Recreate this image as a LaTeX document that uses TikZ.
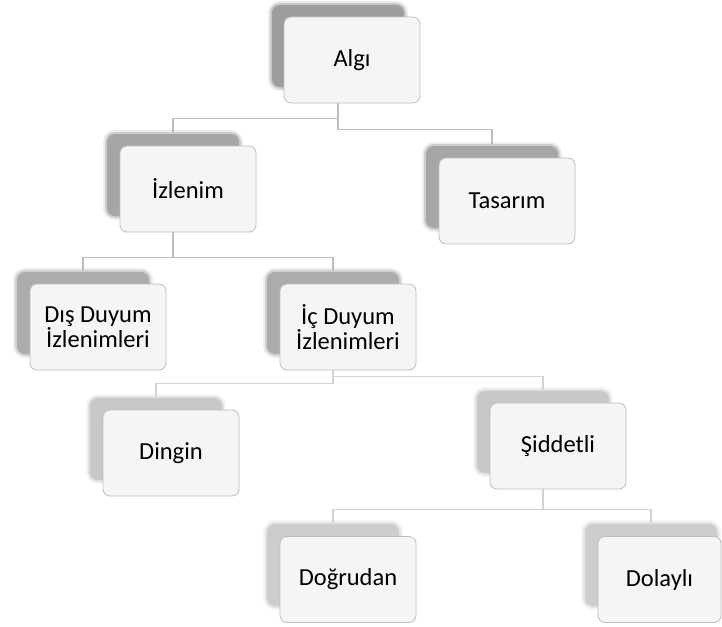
\documentclass[tikz,border=0pt]{standalone}
\usepackage{fontspec}
\setmainfont{Carlito}
\usetikzlibrary{calc}
\pgfdeclarelayer{bg}
\pgfsetlayers{bg,main}
\definecolor{shA}{HTML}{9E9E9E}
\definecolor{shB}{HTML}{A6A6A6}
\definecolor{shC}{HTML}{ACACAC}
\definecolor{shD}{HTML}{C8C8C8}
\definecolor{shE}{HTML}{CDCDCD}
\definecolor{boxline}{HTML}{BDBDBD}
\definecolor{boxfill}{HTML}{F5F5F5}
\definecolor{connA}{HTML}{BEBEBE}
\definecolor{connB}{HTML}{D2D2D2}
\tikzset{
  frontbox/.style={draw=boxline, line width=0.8pt, rounded corners=7pt,
    fill=boxfill, minimum width=136pt, minimum height=86pt, inner sep=0pt,
    align=center, text=black, font=\fontsize{24.5}{24}\selectfont},
  shadowbox/.style={fill=#1, draw=#1, draw opacity=0.45, line width=4pt,
    rounded corners=8pt, minimum width=132pt, minimum height=82pt, inner sep=0pt,
    preaction={draw=#1, draw opacity=0.2, line width=8pt}},
  conn/.style={draw=#1, line width=1.6pt}
}
\begin{document}
\begin{tikzpicture}[x=1pt,y=-1pt]
\useasboundingbox (0,0) rectangle (722,626);
% shadows
\node[shadowbox=shA] (algiS) at (338,46) {};
\node[shadowbox=shB] (izlS) at (173,175) {};
\node[shadowbox=shB] (tasS) at (492,187) {};
\node[shadowbox=shC] (disS) at (83,313) {};
\node[shadowbox=shC] (icS) at (333,313) {};
\node[shadowbox=shD] (dinS) at (156,439) {};
\node[shadowbox=shD] (sidS) at (543,432) {};
\node[shadowbox=shE] (dogS) at (333,565) {};
\node[shadowbox=shE] (dolS) at (651,565) {};
% front boxes
\node[frontbox] (algi) at (352,60) {Algı};
\node[frontbox] (izl) at (188,189) {İzlenim};
\node[frontbox] (tas) at (507,201) {Tasarım};
\node[frontbox] (dis) at (98,327) {Dış Duyum\\İzlenimleri};
\node[frontbox] (ic) at (348,327) {İç Duyum\\İzlenimleri};
\node[frontbox] (din) at (171,453) {Dingin};
\node[frontbox] (sid) at (558,446) {Şiddetli};
\node[frontbox] (dog) at (348,579.5) {Doğrudan};
\node[frontbox, minimum width=123pt] (dol) at (659.5,579.5) {Dolaylı};
% connectors
\begin{pgfonlayer}{bg}
\draw[conn=connA] (algiS.center |- algi.south) -- ++(0,15) -| (izlS.north);
\draw[conn=connA] (algiS.center |- algi.south) -- ++(0,26) -| (tasS.north);
\draw[conn=connA] (izlS.center |- izl.south) -- ++(0,25) -| (disS.north);
\draw[conn=connA] (izlS.center |- izl.south) -- ++(0,25) -| (icS.north);
\draw[conn=connB] (icS.center |- ic.south) -- ++(0,13) -| (dinS.north);
\draw[conn=connB] (icS.center |- ic.south) -- ++(0,6) -| (sidS.north);
\draw[conn=connB] (sidS.center |- sid.south) -- ++(0,20) -| (dogS.north);
\draw[conn=connB] (sidS.center |- sid.south) -- ++(0,20) -| (dolS.north);
\end{pgfonlayer}
\end{tikzpicture}
\end{document}
